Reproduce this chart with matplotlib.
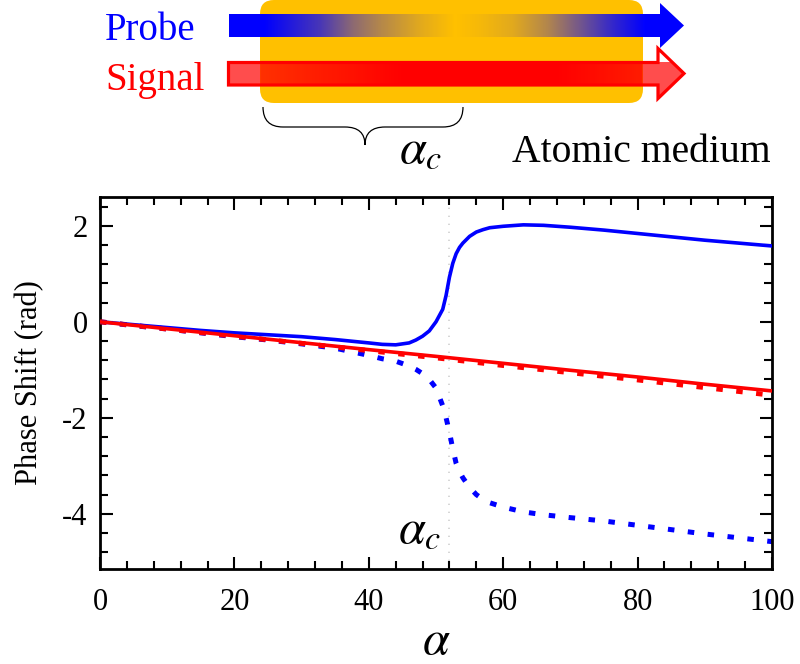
import numpy as np
import matplotlib
matplotlib.use('Agg')
import matplotlib.pyplot as plt
from matplotlib.patches import FancyBboxPatch, Polygon, PathPatch
from matplotlib.path import Path
from matplotlib.ticker import MultipleLocator

plt.rcParams['font.family'] = 'Liberation Serif'
plt.rcParams['mathtext.fontset'] = 'stix'
plt.rcParams['axes.unicode_minus'] = False

# Probe phase shift (blue)
alpha_probe = [0, 5, 10, 15, 20, 25, 30, 35, 40, 42, 44, 46, 47, 48, 49, 50, 51,
               51.5, 52, 52.5, 53, 53.5, 54, 55, 56, 57, 58, 60, 63, 66, 70, 75,
               80, 85, 90, 95, 100]
probe_solid = [0, -0.06, -0.12, -0.18, -0.23, -0.27, -0.31, -0.37, -0.44, -0.47,
               -0.48, -0.44, -0.38, -0.30, -0.19, 0.0, 0.26,
               0.55, 0.93, 1.22, 1.42, 1.55, 1.64, 1.78, 1.87, 1.92, 1.96, 1.99,
               2.02, 2.01, 1.97, 1.91, 1.84, 1.77, 1.70, 1.64, 1.58]
probe_dotted = [0, -0.08, -0.15, -0.23, -0.31, -0.38, -0.46, -0.55, -0.70, -0.77,
                -0.82, -0.92, -0.99, -1.08, -1.20, -1.38, -1.75,
                -2.00, -2.30, -2.65, -2.95, -3.12, -3.25, -3.45, -3.60, -3.70,
                -3.77, -3.86, -3.96, -4.02, -4.08, -4.15, -4.24, -4.33, -4.42,
                -4.50, -4.58]

# Signal phase shift (red)
alpha_signal = [0, 10, 20, 30, 40, 50, 60, 70, 80, 90, 100]
signal_solid = [0, -0.145, -0.29, -0.435, -0.58, -0.72, -0.865, -1.01, -1.15, -1.30, -1.44]
signal_dotted = [0, -0.15, -0.30, -0.45, -0.60, -0.75, -0.91, -1.06, -1.21, -1.37, -1.53]

alpha_c = 52
x_ticks = [0, 20, 40, 60, 80, 100]
y_ticks = [-4, -2, 0, 2]

BLUE = '#0000ff'
RED = '#ff0000'
GOLD = '#ffc000'

fig = plt.figure(figsize=(8, 6.64), dpi=100)

# ---- schematic on top (pixel coordinates) ----
top = fig.add_axes([0, 1 - 180 / 664, 1, 180 / 664])
top.axis('off')

medium = FancyBboxPatch((260, 0), 383, 103, boxstyle='round,pad=0,rounding_size=14',
                        facecolor=GOLD, edgecolor='none', zorder=1)
top.add_patch(medium)

# probe arrow, fading out inside the medium
probe_verts = [(229, 14), (660, 14), (660, 3), (684, 25.5), (660, 48), (660, 37), (229, 37)]
probe_poly = Polygon(probe_verts, closed=True, facecolor='none', edgecolor='none', zorder=2)
top.add_patch(probe_poly)
xs = np.linspace(229, 686, 460)
grad = np.zeros((1, len(xs), 4))
grad[..., 2] = 1.0
grad[0, :, 3] = np.interp(xs, [229, 265, 320, 353, 380, 420, 455, 480, 513, 547, 580, 613, 645, 686],
                          [1, 1, 0.72, 0.45, 0.3, 0.12, 0, 0.04, 0.12, 0.3, 0.55, 0.8, 1, 1])
im = top.imshow(grad, extent=(229, 686, 48, 3), aspect='auto', zorder=2,
                interpolation='bilinear')
im.set_clip_path(probe_poly)

# signal arrow, stronger inside the medium
signal_verts = [(228.5, 62.5), (658, 62.5), (658, 48.5), (684, 73.5), (658, 98.5),
                (658, 85), (228.5, 85)]
signal_poly = Polygon(signal_verts, closed=True, facecolor='none', edgecolor=RED,
                      lw=2.3, joinstyle='miter', zorder=4)
top.add_patch(signal_poly)
xs = np.linspace(228, 686, 460)
grad = np.zeros((1, len(xs), 4))
grad[..., 0] = 1.0
a = np.interp(xs, [260, 400, 560, 643], [0.75, 1.0, 1.0, 0.86])
a[(xs < 260) | (xs > 643)] = 0.7
grad[0, :, 3] = a
im = top.imshow(grad, extent=(228, 686, 99, 62), aspect='auto', zorder=3,
                interpolation='bilinear')
im.set_clip_path(signal_poly)

top.text(105, 40, 'Probe', color=BLUE, fontsize=28, va='baseline')
top.text(105, 90, 'Signal', color=RED, fontsize=28, va='baseline')
top.text(512, 162, 'Atomic medium', color='black', fontsize=28.5, va='baseline')
top.text(399, 162, r'$\alpha_c$', fontsize=35, va='baseline')

# curly brace under the medium
brace = Path([(263, 107), (263, 127), (283, 127), (345, 127), (365, 127), (365, 145),
              (365, 127), (385, 127), (443, 127), (463, 127), (463, 107)],
             [Path.MOVETO, Path.CURVE3, Path.CURVE3, Path.LINETO, Path.CURVE3, Path.CURVE3,
              Path.CURVE3, Path.CURVE3, Path.LINETO, Path.CURVE3, Path.CURVE3])
top.add_patch(PathPatch(brace, facecolor='none', edgecolor='black', lw=0.9, zorder=2))

top.set_xlim(0, 800)
top.set_ylim(180, 0)

# ---- phase shift plot ----
ax = fig.add_axes([100 / 800, 1 - 569 / 664, 672 / 800, 372 / 664])

ax.axvline(alpha_c, color='#d0d0d0', lw=1.2, ls=(0, (0.8, 4)), zorder=0)
ax.plot(alpha_probe, probe_dotted, color=BLUE, lw=3.6, ls=(0, (1.3, 2.7)), zorder=2)
ax.plot(alpha_signal, signal_dotted, color=RED, lw=3.6, ls=(0, (1.3, 2.7)), zorder=3)
ax.plot(alpha_probe, probe_solid, color=BLUE, lw=2.6, zorder=4)
ax.plot(alpha_signal, signal_solid, color=RED, lw=2.6, zorder=5)

ax.text(50.8, -4.6, r'$\alpha_c$', fontsize=35, ha='right', va='baseline')

ax.set_xlim(0, 100)
ax.set_ylim(-5.15, 2.6)
ax.set_xticks(x_ticks)
ax.set_yticks(y_ticks)
ax.xaxis.set_minor_locator(MultipleLocator(4))
ax.yaxis.set_minor_locator(MultipleLocator(0.4))
ax.tick_params(which='both', direction='in', top=True, right=True, width=1.5,
               labelsize=22)
ax.tick_params(axis='x', which='both', pad=14)
ax.tick_params(axis='y', which='both', pad=9)
ax.tick_params(which='major', length=9)
ax.tick_params(which='minor', length=5.5)
for s in ax.spines.values():
    s.set_linewidth(2)

ax.set_xlabel(r'$\alpha$', fontsize=35, labelpad=2)
ax.set_ylabel('Phase Shift (rad)', fontsize=22, labelpad=13)

fig.savefig('out.png', dpi=100)
